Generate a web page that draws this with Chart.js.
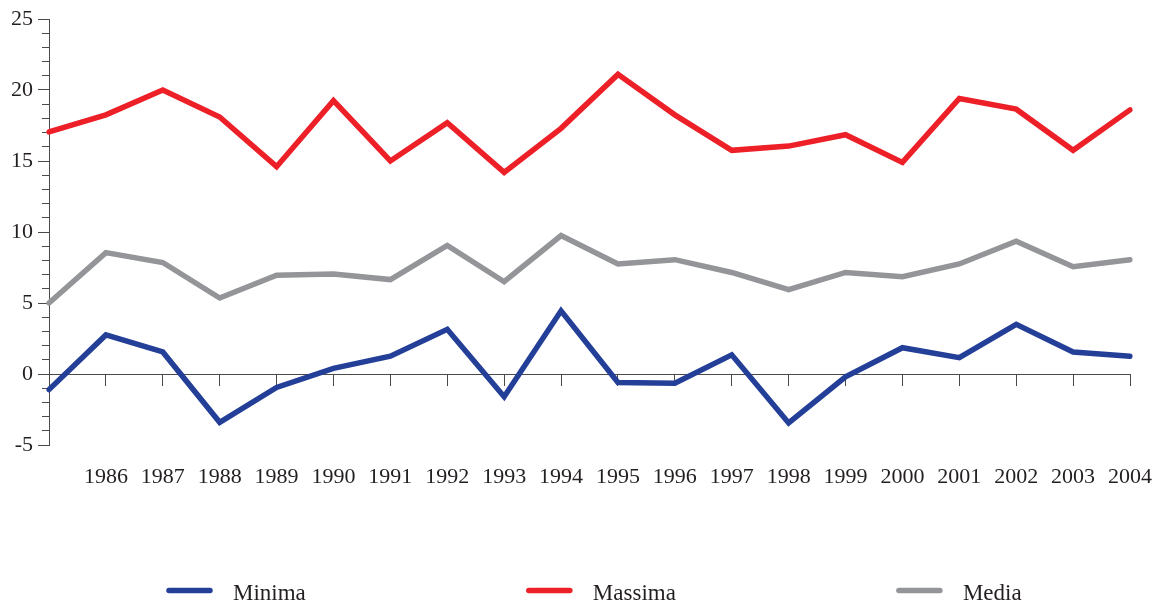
<!DOCTYPE html>
<html>
<head>
<meta charset="utf-8">
<script src="https://cdn.jsdelivr.net/npm/chart.js@4/dist/chart.umd.min.js"></script>
<style>
html,body{margin:0;padding:0;background:#fff;}
canvas{display:block;}
</style>
</head>
<body>
<canvas id="c" width="1158" height="602"></canvas>
<script>
const years = ['1985','1986','1987','1988','1989','1990','1991','1992','1993','1994','1995','1996','1997','1998','1999','2000','2001','2002','2003','2004'];
const minima = [-1.1, 2.75, 1.55, -3.4, -0.95, 0.4, 1.25, 3.15, -1.6, 4.45, -0.6, -0.65, 1.35, -3.45, -0.2, 1.85, 1.15, 3.5, 1.55, 1.25];
const massima = [17.05, 18.25, 20.0, 18.1, 14.6, 19.25, 15.0, 17.7, 14.2, 17.3, 21.1, 18.25, 15.75, 16.05, 16.85, 14.9, 19.4, 18.65, 15.75, 18.6];
const media = [5.0, 8.55, 7.85, 5.35, 6.95, 7.05, 6.65, 9.05, 6.5, 9.75, 7.75, 8.05, 7.15, 5.95, 7.15, 6.85, 7.75, 9.35, 7.55, 8.05];
const seriesNames = ['Minima', 'Massima', 'Media'];
const yMin = -5, yMax = 25, yMajorStep = 5, yMinorStep = 1;

const AXIS = '#4a4a4a';
const TEXT = '#231f20';
const FONT = 'Liberation Serif';

const legendPlugin = {
  id: 'customLegend',
  afterDraw(chart) {
    const ctx = chart.ctx;
    ctx.save();
    ctx.font = '23px "' + FONT + '"';
    ctx.textBaseline = 'alphabetic';
    ctx.textAlign = 'left';
    let x = 167;
    const yLine = 590.5, yText = 600;
    chart.data.datasets.forEach(ds => {
      ctx.strokeStyle = ds.borderColor;
      ctx.lineWidth = 5.5;
      ctx.lineCap = 'round';
      ctx.beginPath();
      ctx.moveTo(x + 2, yLine);
      ctx.lineTo(x + 43, yLine);
      ctx.stroke();
      ctx.fillStyle = TEXT;
      ctx.fillText(ds.label, x + 66, yText);
      const w = ctx.measureText(ds.label).width;
      x = x + 66 + w + 221;
    });
    ctx.restore();
  }
};

new Chart(document.getElementById('c'), {
  type: 'line',
  data: {
    labels: years,
    datasets: [
      {label: seriesNames[0], data: minima, borderColor: '#243f98', backgroundColor: '#243f98'},
      {label: seriesNames[1], data: massima, borderColor: '#ed1f27', backgroundColor: '#ed1f27'},
      {label: seriesNames[2], data: media, borderColor: '#939598', backgroundColor: '#939598'}
    ]
  },
  options: {
    responsive: false,
    animation: false,
    devicePixelRatio: 1,
    layout: {padding: {left: 0, top: 19, right: 28, bottom: 157}},
    elements: {
      line: {borderWidth: 5.5, tension: 0, borderCapStyle: 'round', fill: false},
      point: {radius: 0, hoverRadius: 0}
    },
    plugins: {legend: {display: false}, tooltip: {enabled: false}},
    scales: {
      x: {
        type: 'category',
        position: {y: 0},
        offset: false,
        grid: {drawOnChartArea: false, drawTicks: true, tickLength: 90, tickColor: 'rgba(0,0,0,0)', tickWidth: 1},
        border: {display: true, color: AXIS, width: 1},
        ticks: {
          color: TEXT, font: {family: FONT, size: 22}, padding: 0, maxRotation: 0, autoSkip: false,
          callback: function(v, i) { return i === 0 ? '' : this.getLabelForValue(v); }
        }
      },
      xTicks: {
        type: 'category',
        position: {y: 0},
        offset: false,
        grid: {drawOnChartArea: false, drawTicks: true, tickLength: 12, tickColor: AXIS, tickWidth: 1},
        border: {display: false},
        ticks: {display: false, autoSkip: false}
      },
      y: {
        type: 'linear',
        position: 'left',
        min: yMin, max: yMax,
        afterFit(scale) { scale.width = 49; },
        grid: {drawOnChartArea: false, drawTicks: true, tickLength: 11, tickColor: AXIS, tickWidth: 1},
        border: {display: true, color: AXIS, width: 1},
        ticks: {stepSize: yMajorStep, color: TEXT, font: {family: FONT, size: 22}, padding: 5}
      },
      yMinor: {
        type: 'linear',
        position: {x: 0},
        min: yMin, max: yMax,
        grid: {drawOnChartArea: false, drawTicks: true, tickLength: 7, tickColor: AXIS, tickWidth: 1},
        border: {display: false},
        ticks: {stepSize: yMinorStep, display: false}
      }
    }
  },
  plugins: [legendPlugin]
});
</script>
</body>
</html>
